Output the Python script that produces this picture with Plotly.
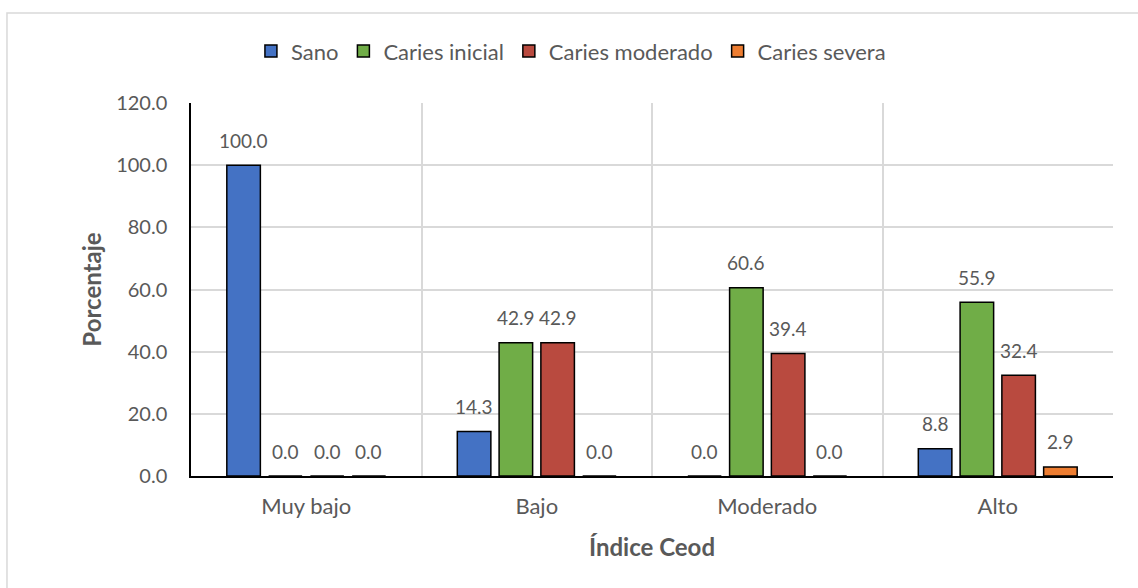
import plotly.graph_objects as go

# Categories of the Ceod index and the percentage for each caries level
categorias = ["Muy bajo", "Bajo", "Moderado", "Alto"]
sano = [100.0, 14.3, 0.0, 8.8]
caries_inicial = [0.0, 42.9, 60.6, 55.9]
caries_moderado = [0.0, 42.9, 39.4, 32.4]
caries_severa = [0.0, 0.0, 0.0, 2.9]
y_ticks = [0, 20, 40, 60, 80, 100, 120]

series = [
    ("Sano", sano, "#4472C4"),
    ("Caries inicial", caries_inicial, "#70AD47"),
    ("Caries moderado", caries_moderado, "#B94A3F"),
    ("Caries severa", caries_severa, "#ED7D31"),
]

FONT = "Lato, 'Open Sans', sans-serif"
GRAY = "#595959"

W, H = 1138, 588
MARGIN = dict(l=191, r=25, t=103, b=112)
BARGAP = 0.275
BARGROUPGAP = 0.197

fig = go.Figure()
for nombre, valores, color in series:
    fig.add_trace(go.Bar(
        name=nombre,
        x=categorias,
        y=valores,
        marker=dict(color=color, line=dict(color="black", width=1.5)),
    ))

# Value labels sit above each bar; the horizontal offset follows the group slot width
plot_w = W - MARGIN["l"] - MARGIN["r"]
slot = plot_w / len(categorias) * (1 - BARGAP) / len(series)
annotations = []
for i, (nombre, valores, color) in enumerate(series):
    for cat, v in zip(categorias, valores):
        annotations.append(dict(
            x=cat, y=v, xref="x", yref="y",
            text=f"{v:.1f}",
            showarrow=False,
            xanchor="center", yanchor="middle",
            xshift=(i - (len(series) - 1) / 2) * slot,
            yshift=25,
            font=dict(family=FONT, size=19, color=GRAY),
        ))

fig.update_layout(
    width=W,
    height=H,
    margin=MARGIN,
    paper_bgcolor="white",
    plot_bgcolor="white",
    barmode="group",
    bargap=BARGAP,
    bargroupgap=BARGROUPGAP,
    font=dict(family=FONT, size=21, color=GRAY),
    annotations=annotations,
    legend=dict(
        orientation="h",
        x=0.065, xanchor="left",
        y=1.139, yanchor="middle",
        font=dict(family=FONT, size=22, color=GRAY),
        itemwidth=30,
        tracegroupgap=0,
    ),
    xaxis=dict(
        range=[-0.5, 3.5],
        tickson="boundaries",
        showgrid=True,
        gridcolor="#D9D9D9",
        gridwidth=1.5,
        showline=True,
        linecolor="black",
        linewidth=1.5,
        ticks="",
        ticklabelstandoff=10,
        tickfont=dict(family=FONT, size=22, color=GRAY),
        title=dict(text="<b>Índice Ceod</b>", font=dict(family=FONT, size=24, color=GRAY), standoff=21),
    ),
    yaxis=dict(
        range=[0, 120],
        tickvals=y_ticks,
        tickformat=".1f",
        showgrid=True,
        gridcolor="#D9D9D9",
        gridwidth=1.5,
        zeroline=False,
        showline=True,
        linecolor="black",
        linewidth=1.5,
        ticks="",
        ticklabelstandoff=18,
        tickfont=dict(family=FONT, size=20, color=GRAY),
        title=dict(text="<b>Porcentaje</b>", font=dict(family=FONT, size=24, color=GRAY), standoff=8),
    ),
    shapes=[dict(
        type="rect", xref="paper", yref="paper",
        x0=-0.1996, x1=1.2, y0=-0.5, y1=1.2413,
        line=dict(color="#D9D9D9", width=1.5),
        fillcolor="rgba(0,0,0,0)",
        layer="below",
    )],
)

fig.write_html("out.html")
